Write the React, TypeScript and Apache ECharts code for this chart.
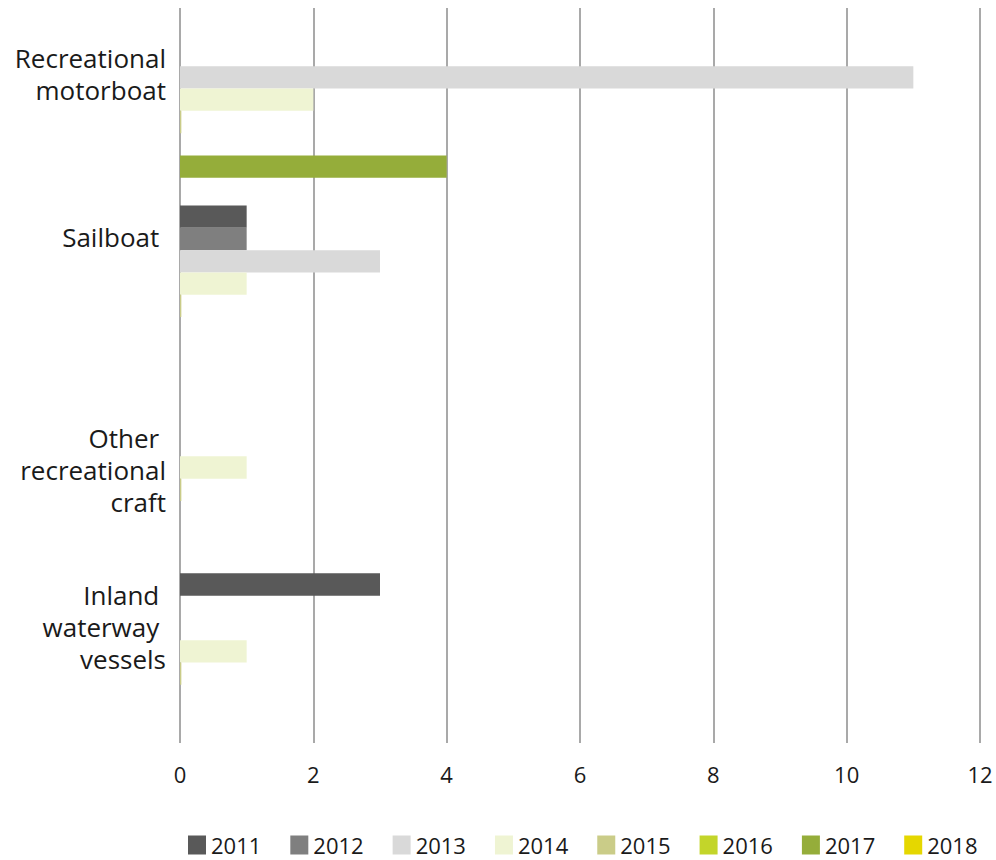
import React, { useEffect, useRef } from "react";
import * as echarts from "echarts";

const categories = [
  "Recreational\nmotorboat",
  "Sailboat ",
  "Other \nrecreational\ncraft",
  "Inland \nwaterway \nvessels",
];
const years = ["2011", "2012", "2013", "2014", "2015", "2016", "2017", "2018"];
const v2011 = [0, 1, 0, 3];
const v2012 = [0, 1, 0, 0];
const v2013 = [11, 3, 0, 0];
const v2014 = [2, 1, 1, 1];
const v2015 = [0.02, 0.02, 0.02, 0.02];
const v2016 = [0, 0, 0, 0];
const v2017 = [4, 0, 0, 0];
const v2018 = [0, 0, 0, 0];
const seriesValues = [v2011, v2012, v2013, v2014, v2015, v2016, v2017, v2018];
const xMin = 0;
const xMax = 12;
const xStep = 2;

const colors = ["#595959", "#7f7f7f", "#d9d9d9", "#eff4d3", "#cacc88", "#c3d52a", "#95ad3a", "#e5d700"];

export default function App() {
  const ref = useRef<HTMLDivElement>(null);
  useEffect(() => {
    if (!ref.current) return;
    const chart = echarts.init(ref.current, null, { renderer: "svg" });
    const labelLift = [37, 58, 9, 36];
    const rich: any = {
      t: {
        fontFamily: "'Open Sans'",
        fontSize: 26,
        lineHeight: 32,
        color: "#1a1a1a",
        align: "right",
      },
    };
    labelLift.forEach((l, i) => {
      rich["g" + i] = { fontSize: 1, lineHeight: l * 2 };
    });
    chart.setOption({
      animation: false,
      backgroundColor: "#ffffff",
      color: colors,
      grid: [
        { left: 180, right: 16, top: 18.9, height: 735.6, containLabel: false },
        { left: 180, right: 16, top: 8, height: 735, containLabel: false },
      ],
      xAxis: [
        {
          type: "value",
          gridIndex: 0,
          min: xMin,
          max: xMax,
          interval: xStep,
          show: false,
        },
        {
          type: "value",
          gridIndex: 1,
          min: xMin,
          max: xMax,
          interval: xStep,
          axisLine: { show: false },
          axisTick: { show: false },
          splitLine: { show: true, lineStyle: { color: "#a9a9a9", width: 2 } },
          axisLabel: {
            margin: 20,
            fontFamily: "'Open Sans'",
            fontSize: 22,
            lineHeight: 22,
            color: "#1a1a1a",
          },
        },
      ],
      yAxis: [
        {
          type: "category",
          gridIndex: 0,
          inverse: true,
          data: categories,
          axisLine: { show: false },
          axisTick: { show: false },
          splitLine: { show: false },
          axisLabel: {
            interval: 0,
            margin: 14,
            formatter: (value: string, index: number) =>
              value
                .split("\n")
                .map((l) => `{t|${l}}`)
                .join("\n") + `\n{g${index}| }`,
            rich,
          },
        },
        {
          type: "value",
          gridIndex: 1,
          min: 0,
          max: 1,
          show: false,
        },
      ],
      legend: {
        left: 188,
        top: 834,
        itemWidth: 18,
        itemHeight: 19,
        itemGap: 29,
        icon: "rect",
        padding: 0,
        data: years,
        textStyle: {
          fontFamily: "'Open Sans'",
          fontSize: 22,
          color: "#1a1a1a",
        },
      },
      series: years.map((y, i) => ({
        name: y,
        type: "bar",
        xAxisIndex: 0,
        yAxisIndex: 0,
        data: seriesValues[i],
        barGap: "0%",
        barCategoryGap: "3%",
        itemStyle: { color: colors[i] },
      })),
    });
    return () => chart.dispose();
  }, []);
  return (
    <div
      ref={ref}
      style={{ position: "absolute", left: 0, top: 0, width: 996, height: 860 }}
    />
  );
}
